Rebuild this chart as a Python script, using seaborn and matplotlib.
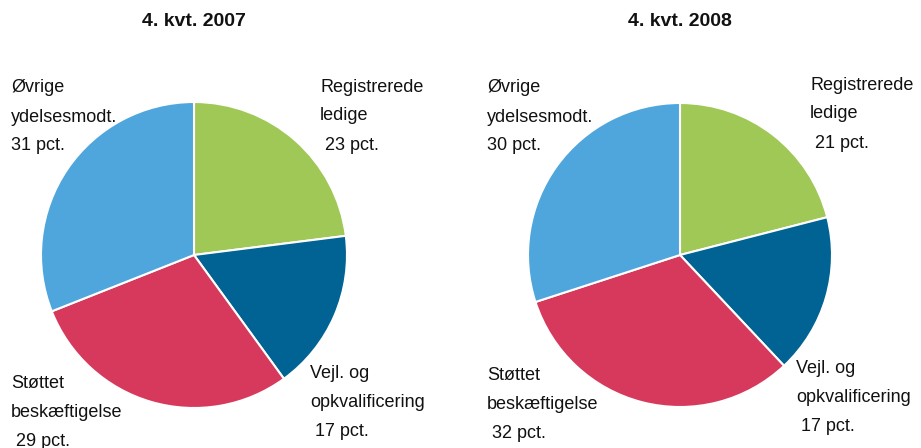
import matplotlib
matplotlib.use("Agg")
import matplotlib.pyplot as plt
import seaborn as sns

# Data
categories = ["Registrerede ledige", "Vejl. og opkvalificering",
              "Støttet beskæftigelse", "Øvrige ydelsesmodt."]
label_texts = ["Registrerede\nledige\n {} pct.", "Vejl. og\nopkvalificering\n {} pct.",
               "Støttet\nbeskæftigelse\n {} pct.", "Øvrige\nydelsesmodt.\n{} pct."]
titles = ["4. kvt. 2007", "4. kvt. 2008"]
values_2007 = [23, 17, 29, 31]
values_2008 = [21, 17, 32, 30]
colors = sns.color_palette(["#a0c856", "#006393", "#d6395b", "#4ea6dc"])

sns.set_theme(style="white")
plt.rcParams["font.family"] = ["Liberation Sans", "DejaVu Sans"]

W, H = 921, 448
LINE_PITCH = 29
fig = plt.figure(figsize=(W / 100, H / 100), dpi=100)

# layout in pixels: pie centre, radius, title x, label anchors (left x, middle-line y)
layout = [
    dict(cx=194, cy=255, r=153, tx=194,
         labels=[(320, 114), (310, 400), (11, 410), (11, 115)]),
    dict(cx=680, cy=255, r=152, tx=680,
         labels=[(810, 112), (796, 395), (487, 402), (487, 115)]),
]

for title, vals, lay in zip(titles, [values_2007, values_2008], layout):
    r = lay["r"]
    ax = fig.add_axes([(lay["cx"] - r) / W, (H - lay["cy"] - r) / H, 2 * r / W, 2 * r / H])
    ax.pie(vals, colors=colors, startangle=90, counterclock=False,
           wedgeprops=dict(edgecolor="white", linewidth=1.5))
    ax.set_xlim(-1.0, 1.0)
    ax.set_ylim(-1.0, 1.0)
    ax.set_axis_off()
    fig.text(lay["tx"] / W, 1 - 21 / H, title, ha="center", va="center",
             fontsize=14, fontweight="bold", color="#111111")
    for txt, v, (lx, ly) in zip(label_texts, vals, lay["labels"]):
        for i, line in enumerate(txt.format(v).split("\n")):
            fig.text(lx / W, 1 - (ly + (i - 1) * LINE_PITCH) / H, line,
                     ha="left", va="center_baseline", fontsize=13, color="#111111")

fig.savefig("out.png", dpi=100, facecolor="white")
